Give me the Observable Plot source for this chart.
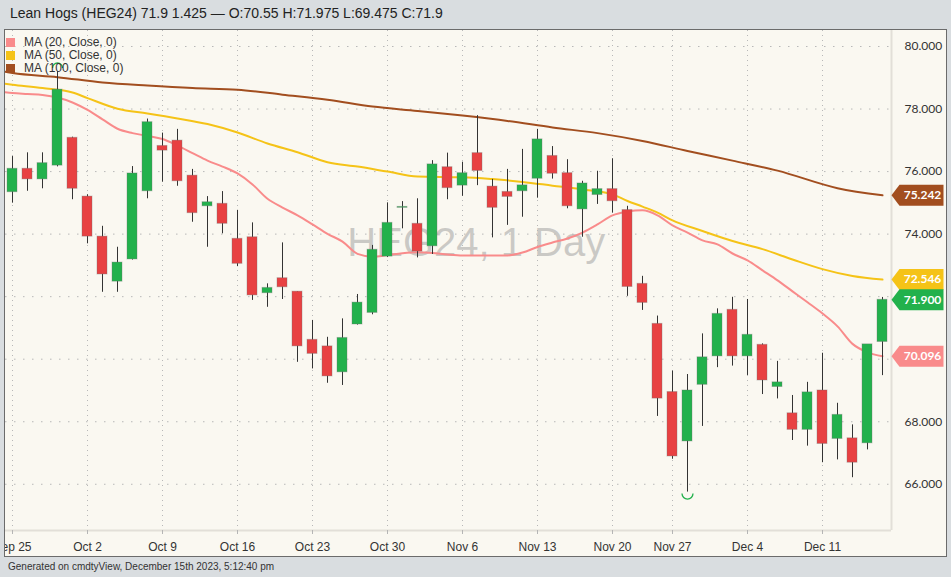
<!DOCTYPE html>
<html><head><meta charset="utf-8">
<script src="https://cdn.jsdelivr.net/npm/d3@7"></script>
<script src="https://cdn.jsdelivr.net/npm/@observablehq/plot@0.6"></script>
<style>
html,body{margin:0;padding:0;background:#d9dde0;width:951px;height:577px;overflow:hidden;font-family:"Liberation Sans",Arial,sans-serif;}
#title{position:absolute;left:10px;top:4px;font-size:14px;line-height:18px;color:#222;white-space:nowrap;}
#panel{position:absolute;left:4px;top:29px;width:941px;height:526px;background:#faf8f1;border:1px solid #6b6b6b;overflow:hidden;}
#chart{position:absolute;left:0;top:0;}
#legend{position:absolute;left:1px;top:6px;font-size:12px;color:#333;line-height:13px;}
#legend div{display:flex;align-items:center;height:13px;}
#legend span.sw{display:inline-block;width:9px;height:9px;margin-right:9px;}
#footer{position:absolute;left:8px;top:561px;font-size:10px;color:#333;white-space:nowrap;}
</style></head>
<body>
<div id="title">Lean Hogs (HEG24) 71.9 1.425 — O:70.55 H:71.975 L:69.475 C:71.9</div>
<div id="panel"><div id="chart"></div><div id="legend"></div></div>
<div id="footer">Generated on cmdtyView, December 15th 2023, 5:12:40 pm</div>
<script>
// ---- data ----
const dates = ["Sep 25","Sep 26","Sep 27","Sep 28","Sep 29","Oct 2","Oct 3","Oct 4","Oct 5","Oct 6",
"Oct 9","Oct 10","Oct 11","Oct 12","Oct 13","Oct 16","Oct 17","Oct 18","Oct 19","Oct 20",
"Oct 23","Oct 24","Oct 25","Oct 26","Oct 27","Oct 30","Oct 31","Nov 1","Nov 2","Nov 3",
"Nov 6","Nov 7","Nov 8","Nov 9","Nov 10","Nov 13","Nov 14","Nov 15","Nov 16","Nov 17",
"Nov 20","Nov 21","Nov 22","Nov 24","Nov 27","Nov 28","Nov 29","Nov 30","Dec 1",
"Dec 4","Dec 5","Dec 6","Dec 7","Dec 8","Dec 11","Dec 12","Dec 13","Dec 14","Dec 15"];
const open  = [75.34,76.09,75.75,76.19,77.08,75.20,73.92,72.48,73.19,75.37,
76.82,76.99,75.87,74.89,74.97,73.85,73.90,72.11,72.59,72.16,
70.62,70.41,69.58,71.11,71.48,73.28,74.84,74.33,73.61,76.14,
75.55,76.59,75.52,75.35,75.37,75.77,76.50,75.95,74.79,75.25,
75.44,74.77,72.41,71.13,68.95,67.37,69.18,70.09,71.58,
70.09,70.46,69.11,68.27,67.74,69.00,67.45,67.47,67.31,70.55];
const high  = [76.48,76.60,76.60,79.20,77.10,75.26,74.25,73.58,76.16,77.68,
77.23,77.35,76.07,75.20,75.36,74.76,74.36,72.41,73.72,72.16,
71.24,70.70,71.29,72.07,73.64,75.00,75.04,75.13,76.35,76.59,
76.30,77.79,75.75,76.07,76.71,77.35,76.80,76.38,75.69,76.01,
76.41,74.89,72.65,71.38,69.62,69.51,70.81,71.61,71.98,
71.91,70.49,69.93,68.84,69.26,70.19,68.59,67.90,70.46,71.975];
const low   = [74.99,75.37,75.45,76.15,75.10,73.69,72.14,72.14,73.17,75.13,
75.66,75.53,74.38,73.58,74.01,72.96,71.88,71.66,71.91,69.90,
69.69,69.23,69.16,71.09,71.42,73.25,74.17,73.24,73.35,75.10,
75.21,75.55,73.88,74.28,74.54,75.15,75.76,74.81,73.90,74.95,
74.67,72.01,71.56,68.17,66.80,65.75,67.85,69.73,69.78,
69.48,68.87,68.73,67.40,67.22,66.69,66.78,66.21,67.10,69.475];
const close = [76.09,75.75,76.27,78.62,75.45,73.92,72.71,73.09,75.94,77.58,
76.67,75.69,74.67,75.02,74.33,73.05,72.04,72.28,72.30,70.41,
70.17,69.45,70.68,71.81,73.50,74.36,74.87,73.44,76.23,75.47,
75.95,76.02,74.84,75.19,75.56,77.03,75.93,74.89,75.62,75.44,
75.05,72.31,71.80,68.74,66.89,69.00,70.06,71.45,70.09,
70.78,69.32,69.26,67.74,68.94,67.29,68.22,66.69,70.475,71.90];

// moving averages (x = trading-day index, -0.5 = left edge)
const ma20Idx = [-0.5].concat(d3.range(59));
const ma20 = [78.54,78.51,78.48,78.45,78.37,78.21,77.97,77.67,77.37,77.23,77.14,
77.04,76.83,76.59,76.35,76.16,75.94,75.59,75.13,74.85,74.60,
74.31,74.01,73.76,73.37,73.28,73.33,73.39,73.42,73.40,73.35,
73.32,73.32,73.32,73.32,73.41,73.59,73.73,73.86,74.05,74.31,
74.60,74.72,74.76,74.60,74.28,74.05,73.80,73.67,73.38,73.16,
72.84,72.52,72.17,71.82,71.46,71.05,70.49,70.22,70.096];
const ma50Idx = [-0.5,0,2,4,5,7,9,11,13,15,17,19,21,23,25,27,30,32,34,36,38,40,41,42,43,44,46,48,50,52,54,56,58];
const ma50 = [78.81,78.78,78.67,78.53,78.35,78.01,77.86,77.70,77.52,77.25,76.90,76.62,76.30,76.16,76.00,75.84,75.82,75.76,75.67,75.55,75.43,75.27,75.06,74.88,74.69,74.44,74.10,73.78,73.52,73.19,72.88,72.66,72.546];
const ma100Idx = [-0.5,0,3,6,9,12,15,18,21,24,27,30,33,36,39,42,45,48,51,55,58];
const ma100 = [79.19,79.15,79.02,78.85,78.75,78.67,78.62,78.46,78.30,78.08,77.94,77.79,77.62,77.41,77.23,76.98,76.66,76.35,76.03,75.47,75.242];

const weekLabels = ["Sep 25","Oct 2","Oct 9","Oct 16","Oct 23","Oct 30","Nov 6","Nov 13","Nov 20","Nov 27","Dec 4","Dec 11"];
const gridTicks = [66,68,70,72,74,76,78,80];
const yTickLabels = [66,68,74,76,78,80];   // 70 and 72 are hidden behind the value badges
const legendNames = ["MA (20, Close, 0)","MA (50, Close, 0)","MA (100, Close, 0)"];

// ---- colors ----
const UP="#22b14c", DOWN="#e84142", C20="#f98b8b", C50="#f5c317", C100="#a24e1f";

// ---- tables ----
const candles = dates.map((d,i)=>({i, date:d, open:open[i], high:high[i], low:low[i], close:close[i]}));
const mk = (idx, vals) => idx.map((x,k)=>({x, v:vals[k]}));
const s20 = mk(ma20Idx, ma20), s50 = mk(ma50Idx, ma50), s100 = mk(ma100Idx, ma100);
const tickIdx = weekLabels.map(l=>dates.indexOf(l));
const hiIdx = d3.maxIndex(high), loIdx = d3.minIndex(low);
const badges = [
  {v: ma100[ma100.length-1], c: C100},
  {v: ma50[ma50.length-1], c: C50},
  {v: ma20[ma20.length-1], c: C20},
  {v: close[close.length-1], c: UP}
];

const badgeShape = {draw(ctx){ctx.moveTo(0,0);ctx.lineTo(8,-10.5);ctx.lineTo(52,-10.5);ctx.lineTo(52,10.5);ctx.lineTo(8,10.5);ctx.closePath();}};
const arcUp = {draw(ctx){ctx.moveTo(-5,0);ctx.arc(0,0,5,Math.PI,2*Math.PI);}};
const arcDown = {draw(ctx){ctx.moveTo(5.5,0);ctx.arc(0,0,5.5,0,Math.PI);}};

const pxPerUnit = 31.27;
const chart = Plot.plot({
  width: 941, height: 526,
  marginLeft: 0, marginRight: 55, marginTop: 0, marginBottom: 26,
  style: {background: "none", overflow: "visible"},
  x: {type: "linear", domain: [-7/15, 879/15], axis: null},
  y: {domain: [80 - 484/pxPerUnit, 80 + 16/pxPerUnit], axis: null},
  marks: [
    Plot.text(["HEG24, 1 Day"], {frameAnchor: "top-left", dx: 470.8, dy: 213, text: d=>d, textAnchor: "middle", lineAnchor: "middle",
      fontSize: 40, fontFamily: "Liberation Sans, Arial, sans-serif", fill: "#9a9a9a", fillOpacity: 0.5}),
    Plot.gridY({ticks: gridTicks, stroke: "#b8b8b8", strokeOpacity: 1, strokeDasharray: "1.5,7.5"}),
    Plot.gridX({ticks: tickIdx, stroke: "#b8b8b8", strokeOpacity: 1, strokeDasharray: "1,4"}),
    Plot.ruleX([879/15], {stroke: "#e2dfd8", strokeWidth: 2}),
    Plot.ruleY([80 - 484/pxPerUnit], {stroke: "#e2dfd8", strokeWidth: 2}),
    Plot.line(s100, {x: "x", y: "v", stroke: C100, strokeWidth: 2, curve: "monotone-x"}),
    Plot.line(s50, {x: "x", y: "v", stroke: C50, strokeWidth: 2, curve: "monotone-x"}),
    Plot.line(s20, {x: "x", y: "v", stroke: C20, strokeWidth: 2, curve: "monotone-x"}),
    Plot.ruleX(candles, {x: "i", y1: "low", y2: "high", stroke: "#333", strokeWidth: 1}),
    Plot.rect(candles, {x1: d=>d.i-0.5, x2: d=>d.i+0.5, y1: "open", y2: "close", insetLeft: 2.5, insetRight: 2.5,
      fill: d=>d.close>=d.open?UP:DOWN, stroke: "rgba(110,110,110,0.35)", strokeWidth: 1}),
    Plot.dot([candles[hiIdx]], {x: "i", y: "high", dy: -3.5, symbol: arcUp, fill: "none", stroke: UP, strokeWidth: 1.3}),
    Plot.dot([candles[loIdx]], {x: "i", y: "low", dy: 1.5, symbol: arcDown, fill: "none", stroke: UP, strokeWidth: 1.3}),
    Plot.axisY({anchor: "right", ticks: yTickLabels, tickSize: 0, tickPadding: 13, tickFormat: d3.format(".3f"), label: null,
      fontSize: 12, fontFamily: "Lato, sans-serif", fill: "#333"}),
    Plot.axisX({anchor: "bottom", ticks: tickIdx, tickSize: 4, tickPadding: 8, tickFormat: i => dates[i], label: null,
      fontSize: 12, fontFamily: "Liberation Sans, Arial, sans-serif", fill: "#333", stroke: "#b5b5b5"}),
    ...badges.map(b => Plot.dot([b], {y: "v", frameAnchor: "right", symbol: badgeShape, fill: b.c, stroke: "none"})),
    ...badges.map(b => Plot.text([b], {y: "v", frameAnchor: "right", dx: 31, text: d=>d3.format(".3f")(d.v), fill: "white",
      fontWeight: "bold", fontSize: 12, fontFamily: "Lato, sans-serif", textAnchor: "middle"}))
  ]
});
document.getElementById("chart").appendChild(chart);

const lg = document.getElementById("legend");
[C20, C50, C100].forEach((c,k)=>{
  const row = document.createElement("div");
  row.innerHTML = `<span class="sw" style="background:${c}"></span><span>${legendNames[k]}</span>`;
  lg.appendChild(row);
});
</script>
</body></html>
